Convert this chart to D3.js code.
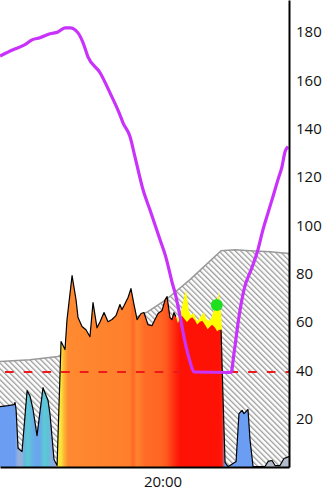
<!DOCTYPE html>
<html>
<head>
<meta charset="utf-8">
<script src="https://cdn.jsdelivr.net/npm/d3@7"></script>
<style>
  body { margin: 0; background: #fff; }
  svg { display: block; font-family: "Open Sans", sans-serif; }
</style>
</head>
<body>
<svg id="chart"></svg>
<script>
// Time window of the view (all series below use minutes after 18:30)
const startTime = new Date(2023, 0, 1, 18, 30);
const endTime = new Date(2023, 0, 1, 21, 10);
const xTickLabels = ["20:00"];
const yTickValues = [20, 40, 60, 80, 100, 120, 140, 160, 180];

// Main effort area
const effortMinutes = [0, 4.4, 7.8, 8.3, 8.9, 10.0, 12.2, 15.0, 16.6, 18.3, 20.5, 23.8, 26.6, 27.7, 29.9, 31.6,
  33.8, 36.0, 37.1, 39.9, 42.1, 43.2, 45.4, 47.6, 49.8, 51.5, 53.7, 55.4, 57.6, 59.8, 62.0, 64.2, 66.4, 67.5,
  68.7, 70.9, 72.5, 74.2, 75.9, 78.1, 79.7, 81.9, 84.2, 85.8, 87.5, 89.7, 91.4, 92.5, 94.1, 95.2, 96.3, 97.4,
  98.5, 99.7, 100.8, 102.4, 103.5, 105.2, 106.5, 108.0, 109.2, 110.7, 112.0, 113.5, 115.0, 116.3, 117.5,
  119.0, 120.2, 121.3, 122.4, 123.5, 124.6, 126.2, 127.3, 130.7,
  132.3, 134.0, 135.1, 137.3, 138.4, 140.1, 146.7, 148.4, 150.6, 152.3, 155.0, 157.2, 160];
const effortValues = [25.0, 25.4, 25.8, 26.7, 23.8, 7.7, 6.4, 31.6, 29.4, 23.8, 13.0, 32.8, 27.5, 21.7, 3.1, 0.6,
  51.9, 48.6, 61.0, 79.2, 69.2, 61.8, 58.1, 56.8, 53.9, 68.0, 57.6, 60.1, 63.9, 60.1, 61.0, 62.6, 67.2, 65.1,
  66.8, 70.1, 73.8, 67.2, 61.0, 63.5, 63.9, 58.9, 58.5, 61.0, 63.5, 64.7, 69.2, 70.5, 61.8, 61.0, 63.9, 62.2,
  59.5, 61.8, 62.5, 61.0, 60.0, 61.4, 62.0, 60.6, 59.0, 60.1, 60.5, 58.9, 57.0, 58.1, 58.8,
  57.7, 56.2, 56.8, 56.8, 27.9, 1.9, 0.2, 0.6, 2.3,
  22.1, 23.4, 22.1, 23.8, 11.4, 0.2, 0.2, 2.3, 2.7, 0.6, 0.6, 3.5, 4.3];

// Peaks above the main area
const peakMinutes = [98.0, 99.7, 100.8, 101.9, 103.0, 103.5, 104.6, 105.7, 107.4, 108.5, 109.6, 110.7, 111.8,
  112.9, 114.0, 115.2, 116.8, 117.9, 119.0, 120.1, 121.0, 121.8, 122.4, 122.9];
const peakValues = [62.0, 62.8, 66.1, 70.3, 73.2, 70.3, 64.5, 62.8, 63.7, 61.2, 60.4, 62.0, 62.8,
  64.1, 61.6, 60.4, 61.2, 63.7, 66.1, 69.0, 72.3, 67.8, 63.7, 56.8];

// Zone level along time (0 rest, 1 easy, 2 moderate, 3 tempo, 4 hard, 5 max)
const zoneMinutes = [0, 8.3, 10.0, 11.6, 13.8, 15.5, 17.7, 20.0, 22.1, 24.4, 26.6, 28.8, 30.4, 32.1, 33.8, 35.4,
  37.6, 72.0, 73.6, 75.8, 80.3, 88.6, 91.9, 97.4, 99.7, 121.2, 122.9, 124.6, 144.0, 146.1, 160];
const zoneLevels = [1, 1, 0.4, 0.4, 1.6, 2, 1.5, 1.2, 1.2, 2, 1.8, 0.6, 0.6, 3, 3, 3.5,
  4, 4.1, 4.3, 4.05, 4.25, 4.3, 4.4, 4.85, 5, 5, 4.9, 1, 1, 0, 0];

// Hatched background band
const bandMinutes = [0, 16.6, 32.1, 55.4, 81.9, 91.9, 105.2, 122.4, 130.1, 138.4, 149.5, 160];
const bandValues = [43.6, 44.4, 45.7, 54.8, 64.3, 69.2, 77.5, 89.5, 89.9, 89.5, 89.1, 88.3];

// Second series (line)
const lineMinutes = [0, 7.2, 13.8, 17.7, 22.1, 27.7, 32.1, 36.0, 38.8, 43.2, 46.0, 48.7, 55.4, 60.9, 66.4, 68.1,
  72.0, 74.7, 79.2, 83.0, 88.6, 91.9, 93.6, 95.2, 96.9, 99.7, 103.0, 105.2, 107.4, 127.9, 129.6, 132.3,
  135.1, 139.5, 142.8, 145.6, 148.4, 151.1, 153.9, 156.1, 157.8, 159.4];
const lineValues = [170.0, 172.6, 174.7, 176.7, 177.6, 179.2, 180.0, 181.7, 181.7, 179.6, 175.5, 169.7, 163.1,
  154.8, 145.7, 142.4, 136.6, 128.4, 114.7, 106.4, 94.0, 86.6, 81.6, 76.6, 72.1, 62.2, 49.8, 43.6, 39.3, 39.1,
  47.3, 62.2, 73.4, 82.5, 89.9, 98.2, 105.2, 111.8, 118.9, 124.2, 130.4, 132.5];

const thresholdValue = 39.3;
const markerMinute = [120.0];
const markerValue = [67.0];

// ---- layout
const containerWidth = 332, containerHeight = 500;
const margin = { top: 0, right: 43, bottom: 33, left: 0 };
const width = containerWidth - margin.left - margin.right;
const height = containerHeight - margin.top - margin.bottom;

const toTime = m => startTime.getTime() + m * 60000;
const zip = (ms, vs) => ms.map((m, i) => ({ t: new Date(toTime(m)), v: vs[i] }));

const effort = zip(effortMinutes, effortValues);
const peaks = zip(peakMinutes, peakValues);
const band = zip(bandMinutes, bandValues);
const line2 = zip(lineMinutes, lineValues);
const zones = zip(zoneMinutes, zoneLevels);
const markers = zip(markerMinute, markerValue);

const xScale = d3.scaleTime().domain([startTime, endTime]).range([0, width]);
const yScale = d3.scaleLinear().domain([0, 193.2]).range([height, 0]);
const zoneColor = d3.scaleLinear()
  .domain([0, 1, 2, 3, 4, 5])
  .range(["#b3bccb", "#6b9ef2", "#5ccad4", "#f8e43c", "#ff8a30", "#ff1206"]);

const svg = d3.select("#chart")
  .attr("width", containerWidth)
  .attr("height", containerHeight);

const defs = svg.append("defs");

// diagonal hatch
const hatch = defs.append("pattern")
  .attr("id", "hatch")
  .attr("patternUnits", "userSpaceOnUse")
  .attr("width", 3.9)
  .attr("height", 6)
  .attr("patternTransform", "rotate(-45)");
hatch.append("rect").attr("width", 3.9).attr("height", 6).attr("fill", "#fff");
hatch.append("rect").attr("x", 0).attr("width", 1.3).attr("height", 6).attr("fill", "#9a9a9a");

// horizontal zone gradient
const grad = defs.append("linearGradient")
  .attr("id", "zoneGrad")
  .attr("gradientUnits", "userSpaceOnUse")
  .attr("x1", 0).attr("x2", width)
  .attr("y1", 0).attr("y2", 0);
grad.selectAll("stop")
  .data(zones)
  .join("stop")
  .attr("offset", d => xScale(d.t) / width)
  .attr("stop-color", d => zoneColor(d.v));

const chart = svg.append("g")
  .attr("transform", `translate(${margin.left},${margin.top})`);

const area = d3.area()
  .x(d => xScale(d.t))
  .y0(yScale(0))
  .y1(d => yScale(d.v));

const line = d3.line()
  .x(d => xScale(d.t))
  .y(d => yScale(d.v));

// hatched band
chart.append("path")
  .datum(band)
  .attr("d", area)
  .attr("fill", "url(#hatch)");
chart.append("path")
  .datum(band)
  .attr("d", line)
  .attr("fill", "none")
  .attr("stroke", "#999")
  .attr("stroke-width", 1.5);

// yellow peaks (covered below by the main area)
chart.append("path")
  .datum(peaks)
  .attr("d", area)
  .attr("fill", "#ffff00");

// main area
chart.append("path")
  .datum(effort)
  .attr("d", area)
  .attr("fill", "url(#zoneGrad)");

// outline, left out where the peaks sit on top
const peakStart = peakMinutes[0] - 0.6, peakEnd = peakMinutes[peakMinutes.length - 1] - 0.6;
chart.append("path")
  .datum(effort)
  .attr("d", d3.line()
    .defined((d, i) => effortMinutes[i] <= peakStart || effortMinutes[i] >= peakEnd)
    .x(d => xScale(d.t))
    .y(d => yScale(d.v)))
  .attr("fill", "none")
  .attr("stroke", "#000")
  .attr("stroke-width", 1.2)
  .attr("stroke-linejoin", "round");

// threshold
chart.append("line")
  .attr("x1", 0).attr("x2", width)
  .attr("y1", yScale(thresholdValue)).attr("y2", yScale(thresholdValue))
  .attr("stroke", "#ee1a1a")
  .attr("stroke-width", 1.8)
  .attr("stroke-dasharray", "8.7,10")
  .attr("stroke-dashoffset", 13.7);

// purple series
chart.append("path")
  .datum(line2)
  .attr("d", d3.line().x(d => xScale(d.t)).y(d => yScale(d.v)).curve(d3.curveMonotoneX))
  .attr("fill", "none")
  .attr("stroke", "#c832fa")
  .attr("stroke-width", 3.2)
  .attr("stroke-linejoin", "round");

// marker
chart.selectAll(".marker")
  .data(markers)
  .join("circle")
  .attr("class", "marker")
  .attr("cx", d => xScale(d.t))
  .attr("cy", d => yScale(d.v))
  .attr("r", 6)
  .attr("fill", "#1fe01f");

// axes
const xTicks = xTickLabels.map(s => {
  const [h, m] = s.split(":").map(Number);
  return new Date(2023, 0, 1, h, m);
});
const xAxis = d3.axisBottom(xScale)
  .tickValues(xTicks)
  .tickSize(0)
  .tickSizeOuter(0)
  .tickPadding(9)
  .tickFormat(d3.timeFormat("%H:%M"));
const yAxis = d3.axisRight(yScale)
  .tickValues(yTickValues)
  .tickSize(0)
  .tickSizeOuter(0)
  .tickPadding(7);

const xAxisG = chart.append("g")
  .attr("transform", `translate(0,${height})`)
  .call(xAxis);
const yAxisG = chart.append("g")
  .attr("transform", `translate(${width},0)`)
  .call(yAxis);

[xAxisG, yAxisG].forEach(g => {
  g.select(".domain").attr("stroke", "#000").attr("stroke-width", 2);
  g.selectAll("text").attr("font-size", 15).attr("fill", "#111").attr("font-family", "Open Sans, sans-serif");
});
</script>
</body>
</html>
